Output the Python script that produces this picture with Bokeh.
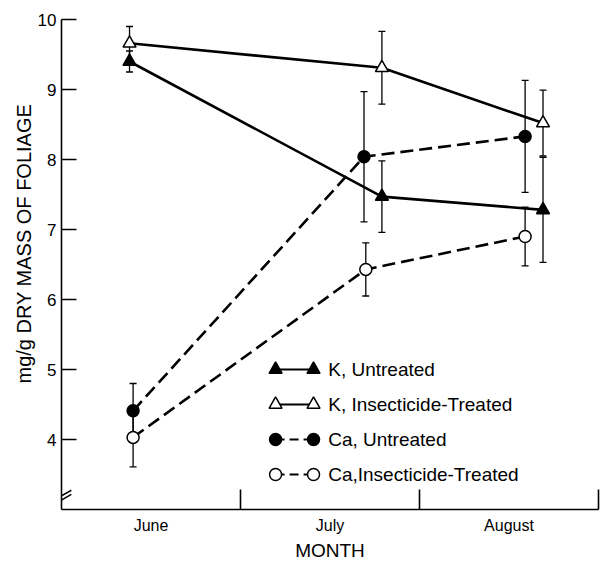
import math
from bokeh.plotting import figure
from bokeh.models import Range1d, FixedTicker, Whisker, TeeHead, ColumnDataSource, Title, Arrow
from bokeh.core.properties import value
from bokeh.embed import file_html
from bokeh.resources import INLINE

# ---------------- data ----------------
months = ["June", "July", "August"]
month_centers = [0.5, 1.5, 2.5]
month_bounds = [1, 2, 3]
y_ticks = [4, 5, 6, 7, 8, 9, 10]

k_untr_x = [0.38, 1.79, 2.69]
k_untr_y = [9.40, 7.47, 7.28]
k_untr_err = [0.15, 0.51, 0.75]

k_trt_x = [0.38, 1.79, 2.69]
k_trt_y = [9.66, 9.31, 8.52]
k_trt_err = [0.24, 0.52, 0.47]

ca_untr_x = [0.40, 1.69, 2.59]
ca_untr_y = [4.41, 8.04, 8.33]
ca_untr_err = [0.39, 0.93, 0.80]

ca_trt_x = [0.40, 1.70, 2.59]
ca_trt_y = [4.03, 6.43, 6.90]
ca_trt_err = [0.42, 0.38, 0.42]

labels = ["K, Untreated", "K, Insecticide-Treated", "Ca, Untreated", "Ca,Insecticide-Treated"]

FONT = "Liberation Sans"

p = figure(frame_width=537, frame_height=490,
           x_range=Range1d(0, 3), y_range=Range1d(3, 10),
           output_backend="svg", toolbar_location=None,
           min_border_left=61, min_border_right=6,
           min_border_top=19, min_border_bottom=55)
p.outline_line_color = None
p.grid.visible = False
p.background_fill_color = "white"
p.border_fill_color = "white"

# y axis
ya = p.yaxis[0]
ya.ticker = FixedTicker(ticks=y_ticks, minor_ticks=[])
ya.major_tick_in = 15
ya.major_tick_out = 0
ya.minor_tick_line_color = None
ya.axis_line_width = 1.6
ya.axis_line_color = "black"
ya.major_tick_line_width = 1.6
ya.major_tick_line_color = "black"
ya.major_label_text_font = FONT
ya.major_label_text_font_size = "17px"
ya.major_label_text_color = "black"
ya.major_label_standoff = 5

# x axis
xa = p.xaxis[0]
xa.ticker = FixedTicker(ticks=month_centers, minor_ticks=month_bounds)
xa.major_label_overrides = {c: m for c, m in zip(month_centers, months)}
xa.major_tick_in = 0
xa.major_tick_out = 0
xa.minor_tick_in = 20
xa.minor_tick_out = 0
xa.minor_tick_line_width = 1.6
xa.minor_tick_line_color = "black"
xa.axis_line_width = 1.6
xa.axis_line_color = "black"
xa.major_label_text_font = FONT
xa.major_label_text_font_size = "16px"
xa.major_label_text_color = "black"
xa.major_label_standoff = 7
xa.axis_label = "MONTH"
xa.axis_label_text_font = FONT
xa.axis_label_text_font_size = "19px"
xa.axis_label_text_font_style = "normal"
xa.axis_label_text_color = "black"
xa.axis_label_standoff = 3

# y axis title (placed higher than centre, as in the original)
ytitle = Title(text="mg/g DRY MASS OF FOLIAGE", align="left", offset=126,
               text_font=FONT, text_font_size="20px", text_font_style="normal",
               text_color="black")
if "standoff" in Title.properties():
    ytitle.standoff = 0
p.add_layout(ytitle, "left")

series = [
    (k_untr_x, k_untr_y, k_untr_err, "triangle", "black", "solid"),
    (k_trt_x, k_trt_y, k_trt_err, "triangle", "white", "solid"),
    (ca_untr_x, ca_untr_y, ca_untr_err, "circle", "black", "13 6"),
    (ca_trt_x, ca_trt_y, ca_trt_err, "circle", "white", "13 6"),
]

# error bars first
for xs, ys, es, mk, fc, dash in series:
    src = ColumnDataSource(dict(x=xs, y=ys,
                                upper=[a + b for a, b in zip(ys, es)],
                                lower=[a - b for a, b in zip(ys, es)]))
    w = Whisker(base="x", upper="upper", lower="lower", source=src, dimension="height",
                line_width=1.3, line_color="black", level="underlay",
                upper_head=TeeHead(size=7, line_width=1.3, line_color="black"),
                lower_head=TeeHead(size=7, line_width=1.3, line_color="black"))
    p.add_layout(w)

for xs, ys, es, mk, fc, dash in series:
    p.line(xs, ys, line_width=2.6, line_color="black", line_dash=dash)

for xs, ys, es, mk, fc, dash in series:
    p.scatter(xs, ys, marker=mk, size=13 if mk == "triangle" else 12,
              fill_color=fc, line_color="black", line_width=1.5)

# legend (drawn manually: marker - line - marker)
leg_x0, leg_x1, leg_tx = 1.196, 1.408, 1.49
leg_rows = [5.0, 4.5, 4.0, 3.5]
for (xs, ys, es, mk, fc, dash), ly, lab in zip(series, leg_rows, labels):
    p.line([leg_x0, leg_x1], [ly, ly], line_width=2.2, line_color="black",
           line_dash="solid" if dash == "solid" else "9 5")
    p.scatter([leg_x0, leg_x1], [ly, ly], marker=mk, size=13 if mk == "triangle" else 12,
              fill_color=fc, line_color="black", line_width=1.5)
    p.text([leg_tx], [ly], text=[lab], text_font=value(FONT), text_font_size="19px",
           text_baseline="middle", text_align="left", text_color="black")

# axis break marks
for yb in [3.22, 3.16]:
    p.add_layout(Arrow(x_start=-0.02, y_start=yb - 0.055, x_end=0.055, y_end=yb + 0.055,
                       end=None, line_width=1.5, line_color="black"))

open("out.html", "w").write(file_html(p, INLINE))
